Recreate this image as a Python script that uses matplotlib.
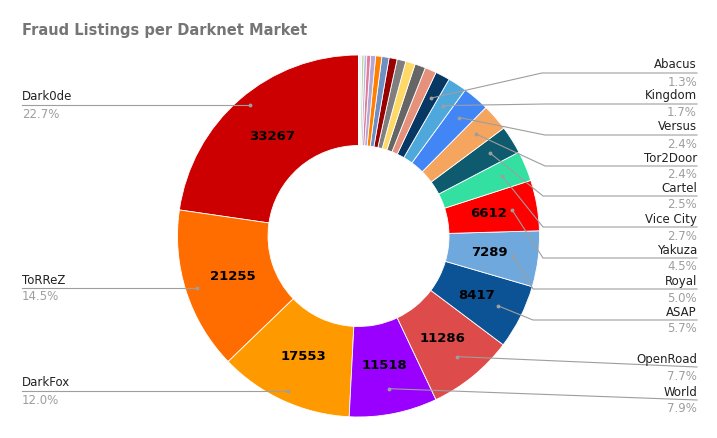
import numpy as np
import matplotlib
matplotlib.use("Agg")
import matplotlib.pyplot as plt

names = ["Dark0de", "ToRReZ", "DarkFox", "World", "OpenRoad", "ASAP", "Royal", "Yakuza",
         "Vice City", "Cartel", "Tor2Door", "Versus", "Kingdom", "Abacus"]
values = [33267, 21255, 17553, 11518, 11286, 8417, 7289, 6612, 3957, 3664, 3517, 3500, 2491, 1905]
small_values = [1500, 1400, 1250, 1150, 1050, 950, 800, 650, 500, 350, 300, 200, 150, 70]
colors = ["#cc0000", "#ff6d01", "#ff9900", "#9900ff", "#dd4b4b", "#0b5394", "#6fa8dc", "#ff0000",
          "#34e0a1", "#0e5a6e", "#f6a55e", "#4285f4", "#4fa8dc", "#073763"]
small_colors = ["#e6917c", "#666666", "#ffd966", "#7f7f7f", "#990000", "#6d8fc4", "#ff8000",
                "#b4a7d6", "#dd7e9b", "#c9b3e0", "#b6d7a8", "#d9ead3", "#a4c2f4", "#f4cccc"]
pct_labels = ["22.7%", "14.5%", "12.0%", "7.9%", "7.7%", "5.7%", "5.0%", "4.5%",
              "2.7%", "2.5%", "2.4%", "2.4%", "1.7%", "1.3%"]
n_inner = 8

fig = plt.figure(figsize=(7.17, 4.38), dpi=100)
ax = fig.add_axes([0, 0, 1, 1])

H = 438
cx, cy, R = 358.5, H - 236, 181
allv = values + small_values
wedges, _ = ax.pie(allv, colors=colors + small_colors, startangle=90, counterclock=True,
                   center=(cx, cy), radius=R, wedgeprops=dict(width=R * 0.5, edgecolor="white", linewidth=0.6),
                   frame=True)
ax.set_xlim(0, 717); ax.set_ylim(0, 438); ax.set_aspect("equal"); ax.axis("off")

ax.text(22, H - 31, "Fraud Listings per Darknet Market", fontsize=10.5, fontweight="bold",
        color="#757575", va="center", ha="left")

def mid(i):
    w = wedges[i]
    return np.deg2rad((w.theta1 + w.theta2) / 2)

for i in range(n_inner):
    a = mid(i)
    rr = R * 0.73
    ax.text(cx + rr * np.cos(a), cy + rr * np.sin(a), str(values[i]), ha="center", va="center",
            fontsize=9.5, fontweight="bold", color="black")

gray = "#9e9e9e"
fs = 8.5
left = {0: 105, 1: 288, 2: 391}
for i, ly in left.items():
    y = H - ly
    dy = y - cy
    dx = -np.sqrt(max((R * 0.94) ** 2 - dy ** 2, 0))
    px = cx + dx
    ax.plot([22, px], [y, y], color=gray, lw=0.8)
    ax.plot(px, y, "o", ms=1.8, color=gray)
    ax.text(22, y + 1.5, names[i], fontsize=fs, color="#222222", ha="left", va="bottom")
    ax.text(22, y - 2.5, pct_labels[i], fontsize=fs, color="#9e9e9e", ha="left", va="top")

right = {13: 73, 12: 104, 11: 135, 10: 166, 9: 196, 8: 227, 7: 258, 6: 289, 5: 320, 4: 367, 3: 400}
elbow = {13: 542, 12: 545, 11: 545, 10: 545, 9: 543, 8: 543, 7: 543, 6: 533, 5: 533}
for i, ly in right.items():
    y = H - ly
    a = mid(i)
    rr = R * 0.86
    px, py = cx + rr * np.cos(a), cy + rr * np.sin(a)
    if i in elbow:
        ax.plot([px, elbow[i], 697], [py, y, y], color=gray, lw=0.8)
    else:
        ax.plot([px, 697], [py, y], color=gray, lw=0.8)
    ax.plot(px, py, "o", ms=1.8, color=gray)
    ax.text(697, y + 1.5, names[i], fontsize=fs, color="#222222", ha="right", va="bottom")
    ax.text(697, y - 2.5, pct_labels[i], fontsize=fs, color="#9e9e9e", ha="right", va="top")

fig.savefig("out.png", dpi=100, facecolor="white")
